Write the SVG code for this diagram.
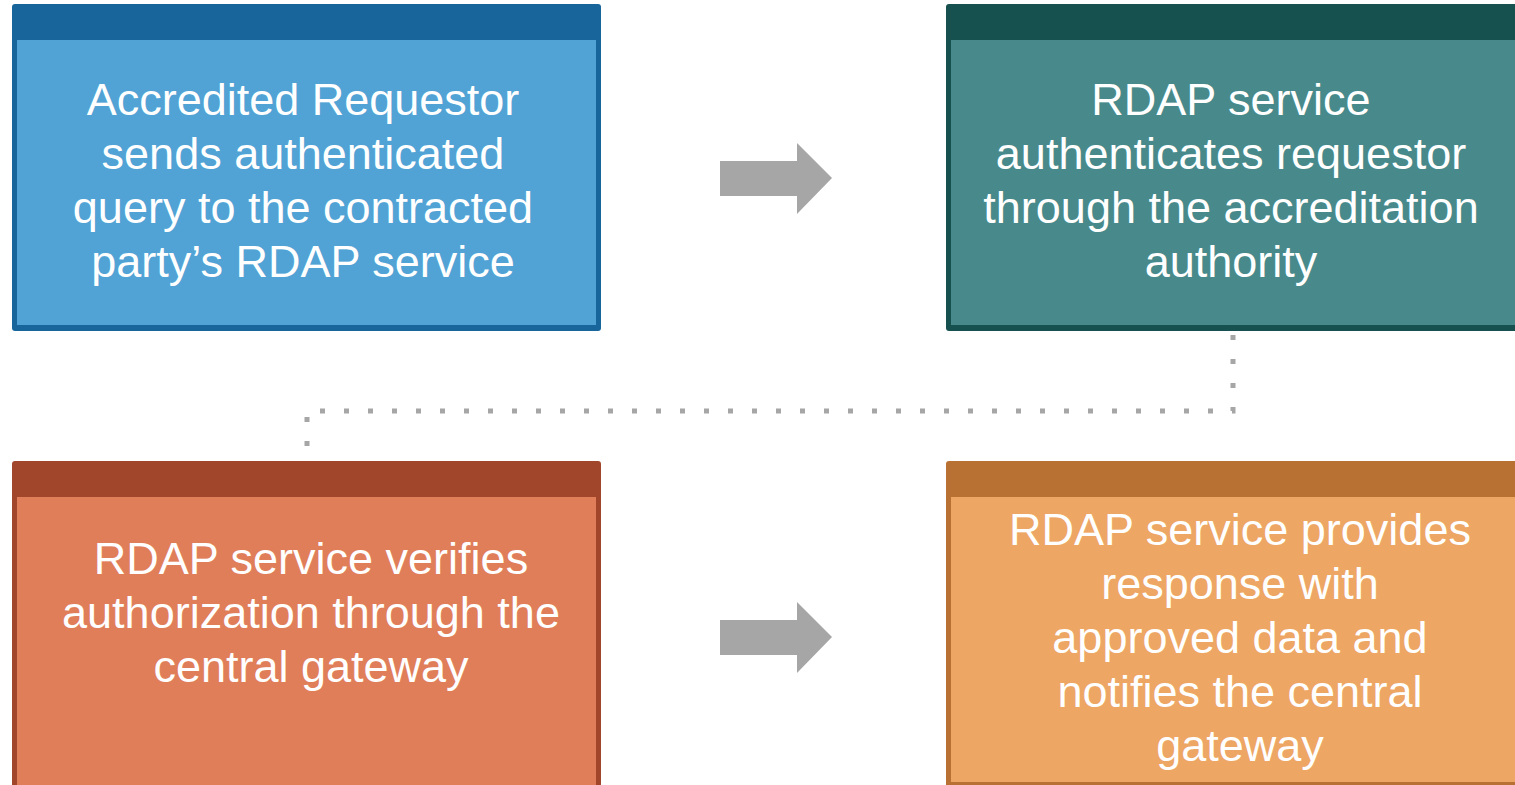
<svg xmlns="http://www.w3.org/2000/svg" width="1515" height="785" viewBox="0 0 1515 785">
<defs>
<style>
.t{font-family:"Liberation Sans",Arial,sans-serif;font-size:45px;fill:#ffffff;text-anchor:middle}
.arrow{fill:#A6A6A6}
.conn{fill:none;stroke:#A6A6A6;stroke-width:5;stroke-dasharray:5 19}
</style>
</defs>
<rect width="1515" height="785" fill="#ffffff"/>
<g id="node1">
<rect x="12" y="4" width="589" height="327" rx="3" fill="#17659A"/>
<rect x="17" y="40" width="579" height="285" fill="#51A3D5"/>
<text class="t" x="303" y="115">Accredited Requestor</text>
<text class="t" x="303" y="169">sends authenticated</text>
<text class="t" x="303" y="223">query to the contracted</text>
<text class="t" x="303" y="277">party’s RDAP service</text>
</g>
<g id="node2">
<rect x="946" y="4" width="580" height="327" rx="3" fill="#16504F"/>
<rect x="951" y="40" width="575" height="285" fill="#488A8B"/>
<text class="t" x="1231" y="115">RDAP service</text>
<text class="t" x="1231" y="169">authenticates requestor</text>
<text class="t" x="1231" y="223">through the accreditation</text>
<text class="t" x="1231" y="277">authority</text>
</g>
<g id="node3">
<rect x="12" y="461" width="589" height="340" rx="3" fill="#A1462A"/>
<rect x="17" y="497" width="579" height="300" fill="#E07E5A"/>
<text class="t" x="311" y="574">RDAP service verifies</text>
<text class="t" x="311" y="628">authorization through the</text>
<text class="t" x="311" y="682">central gateway</text>
</g>
<g id="node4">
<rect x="946" y="461" width="580" height="340" rx="3" fill="#B87033"/>
<rect x="951" y="497" width="575" height="285" fill="#EDA664"/>
<text class="t" x="1240" y="545">RDAP service provides</text>
<text class="t" x="1240" y="599">response with</text>
<text class="t" x="1240" y="653">approved data and</text>
<text class="t" x="1240" y="707">notifies the central</text>
<text class="t" x="1240" y="761">gateway</text>
</g>
<g id="connectors">
<path class="arrow" d="M720 161 H797 V143 L832 178 L797 214 V196 H720 Z"/>
<path class="arrow" d="M720 620 H797 V602 L832 637 L797 673 V655 H720 Z"/>
<path class="conn" d="M1233 335 V411 H307 V447"/>
</g>
</svg>
